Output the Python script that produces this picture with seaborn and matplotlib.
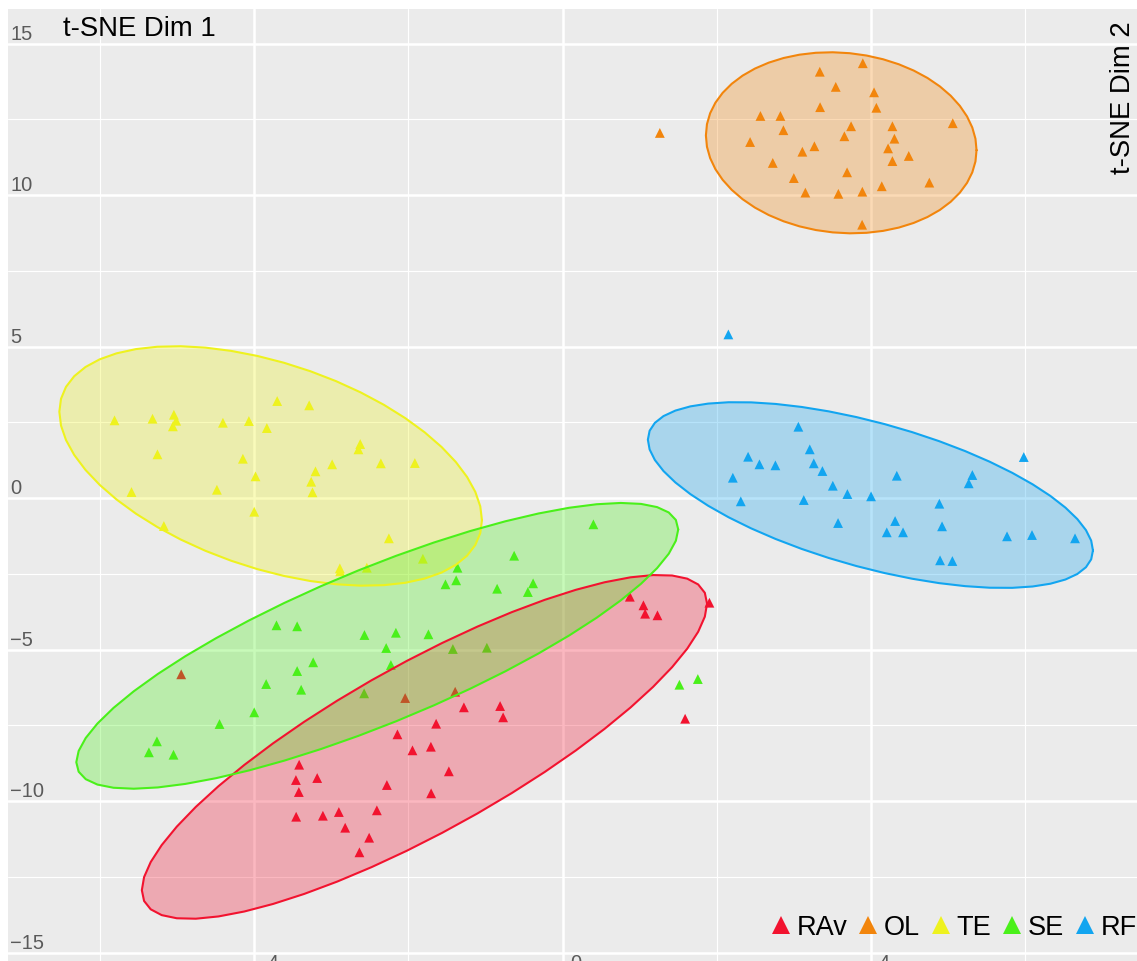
import numpy as np
import pandas as pd
import matplotlib
matplotlib.use("Agg")
import matplotlib.pyplot as plt
import seaborn as sns
from matplotlib.lines import Line2D

# ---------------- data ----------------
groups = ["RAv", "OL", "TE", "SE", "RF"]
colors = ["#F2132F", "#F2850C", "#EEF21F", "#4AF01A", "#12A5F0"]

rav_x = [-4.948, -2.043, -1.394, -1.281, -0.811, -0.772, -1.641, -2.143, -1.948, -1.709,
         -1.476, -1.706, -2.280, -2.410, -3.418, -3.460, -3.184, -3.422, -3.457, -3.110,
         -2.903, -2.821, -2.510, -2.636, 0.872, 1.048, 1.070, 1.230, 1.904, 1.589]
rav_y = [-5.818, -6.601, -6.393, -6.908, -6.865, -7.238, -7.449, -7.799, -8.327, -8.208,
         -9.020, -9.746, -9.472, -10.307, -8.802, -9.307, -9.241, -9.703, -10.518, -10.485,
         -10.363, -10.881, -11.211, -11.693, -3.257, -3.541, -3.818, -3.871, -3.455, -7.284]

ol_x = [3.894, 3.336, 3.543, 4.040, 3.340, 4.070, 2.566, 2.825, 5.061, 3.742,
        4.278, 2.864, 1.261, 3.655, 4.304, 2.432, 3.266, 3.110, 4.222, 4.490,
        4.278, 2.726, 3.690, 2.999, 4.757, 4.140, 3.149, 3.577, 3.888, 3.885]
ol_y = [14.35, 14.07, 13.57, 13.39, 12.90, 12.88, 12.61, 12.61, 12.37, 12.27,
        12.27, 12.14, 12.05, 11.94, 11.86, 11.75, 11.61, 11.43, 11.54, 11.29,
        11.12, 11.06, 10.75, 10.56, 10.41, 10.29, 10.08, 10.04, 10.11, 9.02]

te_x = [-5.813, -5.320, -5.043, -5.013, -5.056, -4.407, -4.070, -3.837, -3.703, -3.288,
        -5.256, -4.148, -3.984, -2.626, -2.649, -2.990, -2.358, -1.917, -3.206, -3.262,
        -3.245, -5.593, -4.485, -4.001, -5.173, -2.254, -1.813, -2.890, -2.886, -2.540]
te_y = [2.564, 2.617, 2.749, 2.551, 2.366, 2.485, 2.541, 2.310, 3.201, 3.059,
        1.442, 1.297, 0.716, 1.782, 1.607, 1.112, 1.145, 1.155, 0.881, 0.538,
        0.188, 0.198, 0.274, -0.452, -0.924, -1.330, -2.003, -2.320, -2.419, -2.300]

se_x = [-3.712, -3.444, -2.571, -2.163, -2.289, -3.236, -2.228, -3.444, -3.846, -3.392,
        -2.575, -4.001, -4.451, -5.263, -5.367, -5.048, 0.399, -0.629, -1.364, -1.520,
        -1.381, -0.850, -0.383, -0.451, -1.741, -1.424, -0.983, 1.515, 1.754]
se_y = [-4.201, -4.234, -4.521, -4.446, -4.950, -5.422, -5.512, -5.710, -6.139, -6.327,
        -6.446, -7.073, -7.459, -8.030, -8.393, -8.472, -0.868, -1.904, -2.300, -2.848,
        -2.716, -2.993, -2.815, -3.102, -4.498, -4.983, -4.941, -6.162, -5.974]

rf_x = [3.058, 3.206, 2.406, 2.553, 2.760, 3.258, 3.370, 2.208, 3.505, 3.694,
        4.001, 4.335, 5.315, 5.268, 5.982, 2.311, 3.128, 4.887, 3.573, 4.313,
        4.205, 4.416, 4.922, 5.765, 6.089, 6.647, 4.896, 5.056, 2.150]
rf_y = [2.353, 1.607, 1.363, 1.112, 1.079, 1.145, 0.891, 0.670, 0.406, 0.132,
        0.056, 0.736, 0.759, 0.485, 1.353, -0.109, -0.066, -0.188, -0.825, -0.759,
        -1.132, -1.132, -0.934, -1.264, -1.221, -1.330, -2.056, -2.079, 5.40]

x_ticks = [-4, 0, 4]
y_ticks = [-15, -10, -5, 0, 5, 10, 15]
x_tick_labels = ["\u22124", "0", "4"]
y_tick_labels = ["\u221215", "\u221210", "\u22125", "0", "5", "10", "15"]

series = {"RAv": (rav_x, rav_y), "OL": (ol_x, ol_y), "TE": (te_x, te_y),
          "SE": (se_x, se_y), "RF": (rf_x, rf_y)}
df = pd.concat([pd.DataFrame({"x": sx, "y": sy, "group": g})
                for g, (sx, sy) in series.items()], ignore_index=True)
palette = dict(zip(groups, colors))


# ------------- stat_ellipse (type = "t") -------------
def cov_trob(X, nu=5, maxit=25, tol=0.01):
    n, p = X.shape
    wt = np.ones(n)
    loc = X.mean(axis=0)
    w = np.sqrt(wt)
    Xc = X - loc
    for _ in range(maxit):
        w0 = w
        Xc = X - loc
        sw = np.sqrt(w / w.sum())
        _, d, Vt = np.linalg.svd(sw[:, None] * Xc, full_matrices=False)
        wX = Xc @ Vt.T @ np.diag(1.0 / d)
        Q = (wX ** 2).sum(axis=1)
        w = (wt * (nu + p)) / (nu + Q)
        loc = (w[:, None] * X).sum(axis=0) / w.sum()
        if np.all(np.abs(w - w0) < tol):
            break
    A = np.sqrt(w)[:, None] * Xc
    cov = A.T @ A / wt.sum()
    return loc, cov


def ellipse_points(xs, ys, level=0.95, segments=51):
    X = np.column_stack([xs, ys])
    n = X.shape[0]
    loc, cov = cov_trob(X)
    dfd = n - 1
    fq = (dfd / 2.0) * ((1 - level) ** (-2.0 / dfd) - 1.0)
    radius = np.sqrt(2.0 * fq)
    ang = np.linspace(0, 2 * np.pi, segments)
    circ = np.column_stack([np.cos(ang), np.sin(ang)])
    L = np.linalg.cholesky(cov)
    return loc + radius * (circ @ L.T)


# ---------------- figure ----------------
sns.set_theme(style="darkgrid")
plt.rcParams["font.family"] = ["Liberation Sans", "DejaVu Sans"]

W, H = 1137, 962
fig = plt.figure(figsize=(W / 100, H / 100), dpi=100)
ax = fig.add_axes([8 / W, 0, (W - 8) / W, (H - 10) / H])
ax.set_facecolor("#EBEBEB")

sns.scatterplot(data=df, x="x", y="y", hue="group", hue_order=groups, palette=palette,
                marker="^", s=50, linewidth=0, legend=False, ax=ax, zorder=3)

for g in groups:
    sx, sy = series[g]
    pts = ellipse_points(sx, sy)
    ax.fill(pts[:, 0], pts[:, 1], facecolor=palette[g], alpha=0.3, zorder=4, lw=0)
    ax.plot(pts[:, 0], pts[:, 1], color=palette[g], lw=1.5, zorder=5)

ax.set_xlim(-7.195, 7.451)
ax.set_ylim(-15.28, 16.14)
ax.set_xticks(x_ticks)
ax.set_xticks([-6, -2, 2, 6], minor=True)
ax.set_yticks(y_ticks)
ax.set_yticks([-12.5, -7.5, -2.5, 2.5, 7.5, 12.5], minor=True)
ax.set_xticklabels([])
ax.set_yticklabels([])
ax.tick_params(which="both", length=0)
ax.grid(which="major", color="white", lw=1.8)
ax.grid(which="minor", color="white", lw=0.8)
ax.set_axisbelow(True)
for sp in ax.spines.values():
    sp.set_visible(False)
ax.set_xlabel("")
ax.set_ylabel("")

tick_col = "#5A5A5A"
for v, lab in zip(y_ticks, y_tick_labels):
    ax.annotate(lab, xy=(0, v), xycoords=("axes fraction", "data"),
                xytext=(1.5, 0.5), textcoords="offset points",
                ha="left", va="bottom", fontsize=14.5, color=tick_col, zorder=6)
for v, lab in zip(x_ticks, x_tick_labels):
    ax.annotate(lab, xy=(v, -15), xycoords="data",
                xytext=(9.5, -0.5), textcoords="offset points",
                ha="center", va="top", fontsize=14.5, color=tick_col, zorder=6)

fig.text(63 / W, 1 - 42 / H, "t-SNE Dim 1", ha="left", va="bottom",
         fontsize=19.8, color="black")
fig.text(1136 / W, 1 - 21 / H, "t-SNE Dim 2", ha="right", va="top",
         rotation=90, fontsize=19.8, color="black")

handles = [Line2D([0], [0], marker="^", linestyle="none", markersize=13,
                  markerfacecolor=c, markeredgewidth=0) for c in colors]
fig.legend(handles, groups, loc="center right", bbox_to_anchor=(1.0, 1 - 928 / H),
           bbox_transform=fig.transFigure, ncol=5, frameon=False, fontsize=19.5,
           labelcolor="black", handlelength=0.75, handletextpad=0.2, columnspacing=0.4,
           borderpad=0, borderaxespad=0)

fig.savefig("out.png", dpi=100)
